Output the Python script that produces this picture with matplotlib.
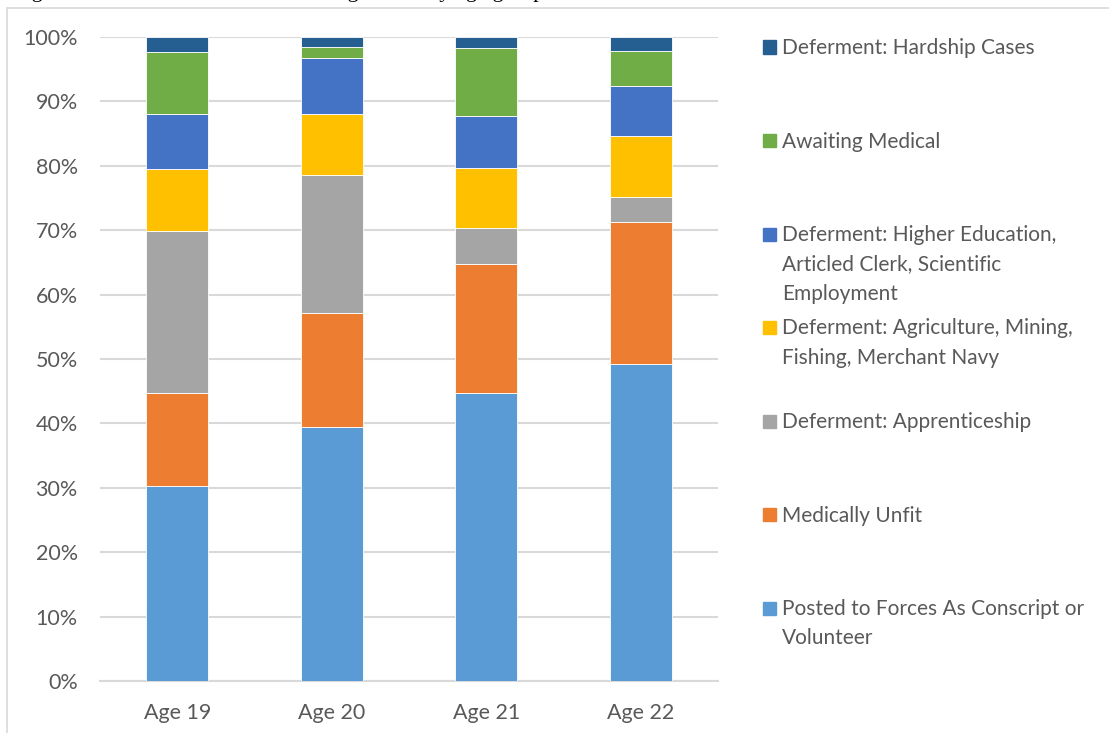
import numpy as np
import matplotlib.pyplot as plt
from matplotlib.patches import Rectangle

# Data (percent of each age group)
ages = ['Age 19', 'Age 20', 'Age 21', 'Age 22']
posted = [30.3, 39.5, 44.7, 49.3]
unfit = [14.4, 17.6, 20.0, 22.0]
apprentice = [25.2, 21.4, 5.6, 3.9]
agriculture = [9.6, 9.5, 9.4, 9.4]
higher_ed = [8.6, 8.8, 8.1, 7.8]
awaiting = [9.6, 1.6, 10.5, 5.5]
hardship = [2.3, 1.6, 1.7, 2.1]

series = [posted, unfit, apprentice, agriculture, higher_ed, awaiting, hardship]
labels = ['Posted to Forces As Conscript or\nVolunteer',
          'Medically Unfit',
          'Deferment: Apprenticeship',
          'Deferment: Agriculture, Mining,\nFishing, Merchant Navy',
          'Deferment: Higher Education,\nArticled Clerk, Scientific\nEmployment',
          'Awaiting Medical',
          'Deferment: Hardship Cases']
colors = ['#5B9BD5', '#ED7D31', '#A5A5A5', '#FFC000', '#4472C4', '#70AD47', '#255E91']

W, H = 1109, 733
fig = plt.figure(figsize=(W / 100, H / 100), dpi=100)
plt.rcParams['font.family'] = ['Lato', 'DejaVu Sans']
txt_color = '#595959'

ax = fig.add_axes([100 / W, 1 - 681 / H, 618 / W, 644 / H])
x = np.arange(len(ages))
bottom = np.zeros(len(ages))
for vals, col in zip(series, colors):
    ax.bar(x, vals, width=0.4, bottom=bottom, color=col, edgecolor='white',
           linewidth=0.6, zorder=3)
    bottom += np.array(vals)

ax.set_xlim(-0.5, 3.5)
ax.set_ylim(0, 100)
ax.set_yticks(np.arange(0, 101, 10))
ax.set_yticklabels([f'{v}%' for v in range(0, 101, 10)])
ax.set_xticks(x)
ax.set_xticklabels(ages)
ax.grid(axis='y', color='#D9D9D9', linewidth=1.5, zorder=0)
for s in ['top', 'right', 'left']:
    ax.spines[s].set_visible(False)
ax.spines['bottom'].set_color('#D9D9D9')
ax.spines['bottom'].set_linewidth(1.5)
ax.tick_params(axis='both', length=0, labelsize=15.5, colors=txt_color)
ax.tick_params(axis='x', pad=16)
ax.tick_params(axis='y', pad=16)

# legend, drawn manually to match the spaced-out entries
for i, (lab, col) in enumerate(zip(labels[::-1], colors[::-1])):
    yc = 47 + 93.5 * i
    fig.patches.append(Rectangle((763 / W, 1 - (yc + 6.5) / H), 13 / W, 13 / H,
                                 transform=fig.transFigure, color=col))
    fig.text(782 / W, 1 - (yc - 9) / H, lab, fontsize=15, color=txt_color,
             va='top', ha='left', linespacing=1.58)

# chart area border and clipped caption
fig.patches.append(Rectangle((7 / W, -0.1), 1.2, 1 - 8 / H + 0.1,
                             transform=fig.transFigure, fill=False,
                             edgecolor='#D9D9D9', linewidth=1.2))
fig.text(13 / W, 1 + 3 / H, 'Figure 3: National service status of registrants by age group',
         fontsize=16, family='Liberation Serif', color='black', va='baseline')

fig.savefig('out.png', dpi=100)
